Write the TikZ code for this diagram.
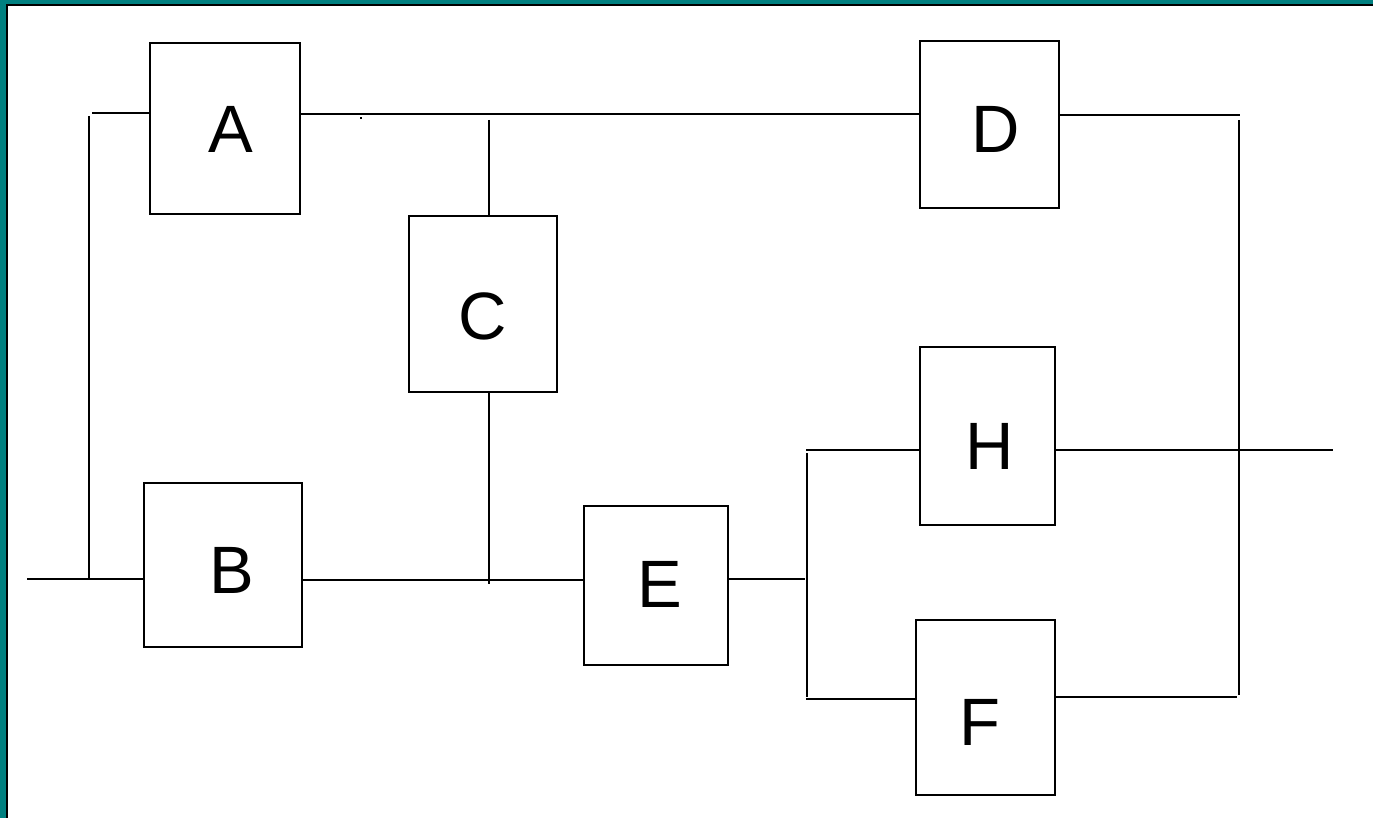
\documentclass[tikz,border=0pt]{standalone}
\usepackage{fontspec}
\setmainfont{Liberation Sans}
\definecolor{frameteal}{RGB}{0,128,128}
\begin{document}
\begin{tikzpicture}[x=1pt,y=-1pt,
  blk/.style={draw=black,line width=2.2pt,fill=white,inner sep=0pt},
  lbl/.style={inner sep=0pt,font=\fontsize{67}{67}\selectfont},
  wire/.style={draw=black,line width=1.8pt}]
\useasboundingbox (0,0) rectangle (1373,818);
\fill[white] (0,0) rectangle (1373,818);
% frame (top and left only)
\fill[frameteal] (0,0) rectangle (1373,4);
\fill[frameteal] (0,0) rectangle (6,818);
\draw[black,line width=2pt] (6,5) -- (1373,5);
\draw[black,line width=2pt] (7,5) -- (7,818);
% blocks (corner coordinates)
\path[blk] (150,43) rectangle (300,214) node[pos=0.5,inner sep=0pt] (A) {};
\path[blk] (144,483) rectangle (302,647) node[pos=0.5,inner sep=0pt] (B) {};
\path[blk] (409,216) rectangle (557,392) node[pos=0.5,inner sep=0pt] (C) {};
\path[blk] (920,41) rectangle (1059,208) node[pos=0.5,inner sep=0pt] (D) {};
\path[blk] (584,506) rectangle (728,665) node[pos=0.5,inner sep=0pt] (E) {};
\path[blk] (920,347) rectangle (1055,525) node[pos=0.5,inner sep=0pt] (H) {};
\path[blk] (916,620) rectangle (1055,795) node[pos=0.5,inner sep=0pt] (F) {};
% labels
\node[lbl] (tA) at (231,129) {A};
\node[lbl] (tB) at (232,570) {B};
\node[lbl] (tC) at (483,316) {C};
\node[lbl] (tD) at (996,129) {D};
\node[lbl] (tE) at (660,584) {E};
\node[lbl] (tH) at (990,446) {H};
\node[lbl] (tF) at (980,722) {F};
% junction coordinates
\coordinate (in) at (27,579);
\coordinate (bL) at (144,579);
\coordinate (j1b) at (89,579);
\coordinate (j1t) at (89,116);
\coordinate (aL) at (92,113);
\coordinate (aLe) at (150,113);
\coordinate (aR) at (300,114);
\coordinate (dL) at (920,114);
\coordinate (cT) at (489,120);
\coordinate (cTe) at (489,216);
\coordinate (cB) at (489,392);
\coordinate (cBe) at (489,584);
\coordinate (bR) at (302,580);
\coordinate (eL) at (584,580);
\coordinate (eR) at (728,579);
\coordinate (e2) at (805,579);
\coordinate (v2t) at (807,453);
\coordinate (v2b) at (807,697);
\coordinate (hL0) at (806,450);
\coordinate (hL) at (920,450);
\coordinate (fL0) at (806,699);
\coordinate (fL) at (916,699);
\coordinate (hR) at (1055,450);
\coordinate (out) at (1333,450);
\coordinate (dR) at (1059,115);
\coordinate (dR1) at (1240,115);
\coordinate (v3t) at (1239,120);
\coordinate (v3b) at (1239,695);
\coordinate (fR) at (1055,697);
\coordinate (fR1) at (1237,697);
% wires
\draw[wire] (in) -- (bL);
\draw[wire] (j1t) -- (j1b);
\draw[wire] (aL) -- (aLe);
\draw[wire] (aR) -- (dL);
\draw[wire] (cT) -- (cTe);
\draw[wire] (cB) -- (cBe);
\draw[wire] (bR) -- (eL);
\draw[wire] (eR) -- (e2);
\draw[wire] (v2t) -- (v2b);
\draw[wire] (hL0) -- (hL);
\draw[wire] (fL0) -- (fL);
\draw[wire] (hR) -- (out);
\draw[wire] (dR) -- (dR1);
\draw[wire] (v3t) -- (v3b);
\draw[wire] (fR) -- (fR1);
% tiny stray dot
\fill[black] (360,117) rectangle (362,119);
\end{tikzpicture}
\end{document}
